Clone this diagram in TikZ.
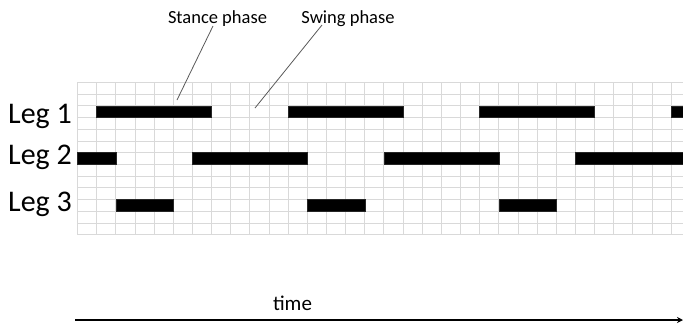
\documentclass[tikz,border=0pt]{standalone}
\usepackage{fontspec}
\setmainfont{Carlito}
\usetikzlibrary{arrows.meta}
\begin{document}
\begin{tikzpicture}[x=1pt,y=-1pt,
  gridline/.style={draw=black!15,line width=0.9pt},
  bar/.style={fill=black,draw=black!85,line width=0.5pt},
  leglabel/.style={anchor=base west,inner sep=0pt,font=\fontsize{30}{30}\selectfont},
  phaselabel/.style={anchor=base,inner sep=0pt,font=\fontsize{18.5}{18.5}\selectfont},
  leader/.style={draw=black!65,line width=0.8pt}]
\useasboundingbox (0,0) rectangle (683,325);
\def\xo{77.5}\def\cw{19.15}\def\yo{82.3}\def\rh{11.73}
% grid
\foreach \i in {0,...,31} {
  \draw[gridline] ({\xo+\i*\cw},\yo) -- ({\xo+\i*\cw},{\yo+13*\rh});
}
\foreach \j in {0,...,13} {
  \draw[gridline] (\xo,{\yo+\j*\rh}) -- (683,{\yo+\j*\rh});
}
% bars: Leg 1 (row 2)
\foreach \a/\b in {1/7,11/17,21/27,31/32} {
  \path[bar] ({\xo+\a*\cw},{\yo+2*\rh}) rectangle ({min(\xo+\b*\cw,683)},{\yo+3*\rh});
}
% Leg 2 (row 6)
\foreach \a/\b in {0/2,6/12,16/22,26/32} {
  \path[bar] ({\xo+\a*\cw},{\yo+6*\rh}) rectangle ({min(\xo+\b*\cw,683)},{\yo+7*\rh});
}
% Leg 3 (row 10)
\foreach \a/\b in {2/5,12/15,22/25} {
  \path[bar] ({\xo+\a*\cw},{\yo+10*\rh}) rectangle ({\xo+\b*\cw},{\yo+11*\rh});
}
% labels
\node[leglabel] (leg1) at (8,123.3) {Leg 1};
\node[leglabel] (leg2) at (8,164.5) {Leg 2};
\node[leglabel] (leg3) at (8,211.7) {Leg 3};
\node[phaselabel] (stance) at (217.5,23.5) {Stance phase};
\node[phaselabel] (swing) at (348,23.5) {Swing phase};
\coordinate (stanceend) at (177,100);
\coordinate (swingend) at (255,108);
\draw[leader] (213,26) -- (stanceend);
\draw[leader] (322,25) -- (swingend);
% time axis
\node[anchor=base,inner sep=0pt,font=\fontsize{21}{21}\selectfont] (time) at (292.5,310) {time};
\coordinate (tstart) at (75,320);
\coordinate (tend) at (683,320);
\draw[line width=2pt,-{Stealth[length=6pt,width=6pt]}] (tstart) -- (tend);
\end{tikzpicture}
\end{document}
